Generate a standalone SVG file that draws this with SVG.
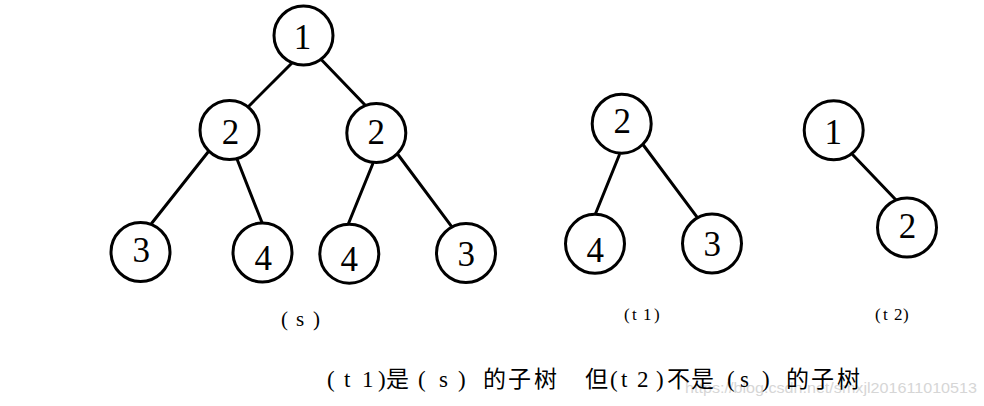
<svg xmlns="http://www.w3.org/2000/svg" width="984" height="406" viewBox="0 0 984 406">
<style>
.edge{stroke:#000;stroke-width:3;fill:none;stroke-linecap:round}
.node circle{fill:#fff;stroke:#000;stroke-width:3}
.node text{font-family:"Liberation Serif","DejaVu Serif",serif;font-size:35px;fill:#000;text-anchor:middle}
.lbl{font-family:"Liberation Serif",serif;fill:#000}
.cap{font-family:"Liberation Serif","Noto Sans CJK SC",serif;font-size:23px;fill:#000}
.wm{font-family:"Liberation Sans",sans-serif;font-size:15px;fill:#d6d6d6}
</style>
<rect width="984" height="406" fill="#fff"/>
<g id="connectors">
<line class="edge" x1="291.7" y1="63.3" x2="248.3" y2="106.7"/>
<line class="edge" x1="321.7" y1="60" x2="366.7" y2="106.7"/>
<line class="edge" x1="208.3" y1="151.7" x2="151.7" y2="223.3"/>
<line class="edge" x1="236.7" y1="158.3" x2="262.3" y2="223.3"/>
<line class="edge" x1="372.7" y1="164" x2="348.3" y2="224"/>
<line class="edge" x1="398.3" y1="155" x2="451.7" y2="226.7"/>
<line class="edge" x1="619.3" y1="155" x2="595" y2="215"/>
<line class="edge" x1="643.3" y1="145" x2="696.7" y2="216.7"/>
<line class="edge" x1="853" y1="155" x2="897.7" y2="201.7"/>
</g>
<g id="s-1" class="node"><circle cx="303.5" cy="35.5" r="29.5"/><text x="302.5" y="49">1</text></g>
<g id="s-2a" class="node"><circle cx="229.5" cy="130" r="29.5"/><text x="230.5" y="144">2</text></g>
<g id="s-2b" class="node"><circle cx="376.3" cy="133" r="29.5"/><text x="376.3" y="143.5">2</text></g>
<g id="s-3a" class="node"><circle cx="140.5" cy="252" r="29.5"/><text x="141.3" y="262">3</text></g>
<g id="s-4a" class="node"><circle cx="262.5" cy="252.5" r="29.5"/><text x="263.3" y="269.5">4</text></g>
<g id="s-4b" class="node"><circle cx="349.3" cy="253.7" r="29.5"/><text x="349.2" y="271">4</text></g>
<g id="s-3b" class="node"><circle cx="466" cy="253" r="29.5"/><text x="466.3" y="265.5">3</text></g>
<g id="t1-2" class="node"><circle cx="621.7" cy="123.7" r="29.5"/><text x="622.2" y="133.3">2</text></g>
<g id="t1-4" class="node"><circle cx="595" cy="243.8" r="29.5"/><text x="595.2" y="261.5">4</text></g>
<g id="t1-3" class="node"><circle cx="712" cy="243.5" r="29.5"/><text x="712.2" y="256">3</text></g>
<g id="t2-1" class="node"><circle cx="833.7" cy="130.3" r="29.5"/><text x="833.3" y="144">1</text></g>
<g id="t2-2" class="node"><circle cx="907" cy="227.5" r="29.5"/><text x="907.5" y="237.7">2</text></g>
<g id="labels">
<text class="lbl" font-size="21" x="281 296 313" y="326">(s)</text>
<text class="lbl" font-size="17" x="624 632 643 654" y="320">(t1)</text>
<text class="lbl" font-size="17" x="875 883 894 903" y="320">(t2)</text>
<text class="wm" x="685" y="393" textLength="292" lengthAdjust="spacingAndGlyphs">https://blog.csdn.net/smxjl201611010513</text>
<text class="cap" x="327 344 362 378 386 418 439 458 483 508 534" y="387">(t1)是(s)的子树</text>
<text class="cap" x="585 610 621 637 656 667 691 727 740 762 786 811 837" y="387">但(t2)不是(s)的子树</text>
</g>
</svg>
